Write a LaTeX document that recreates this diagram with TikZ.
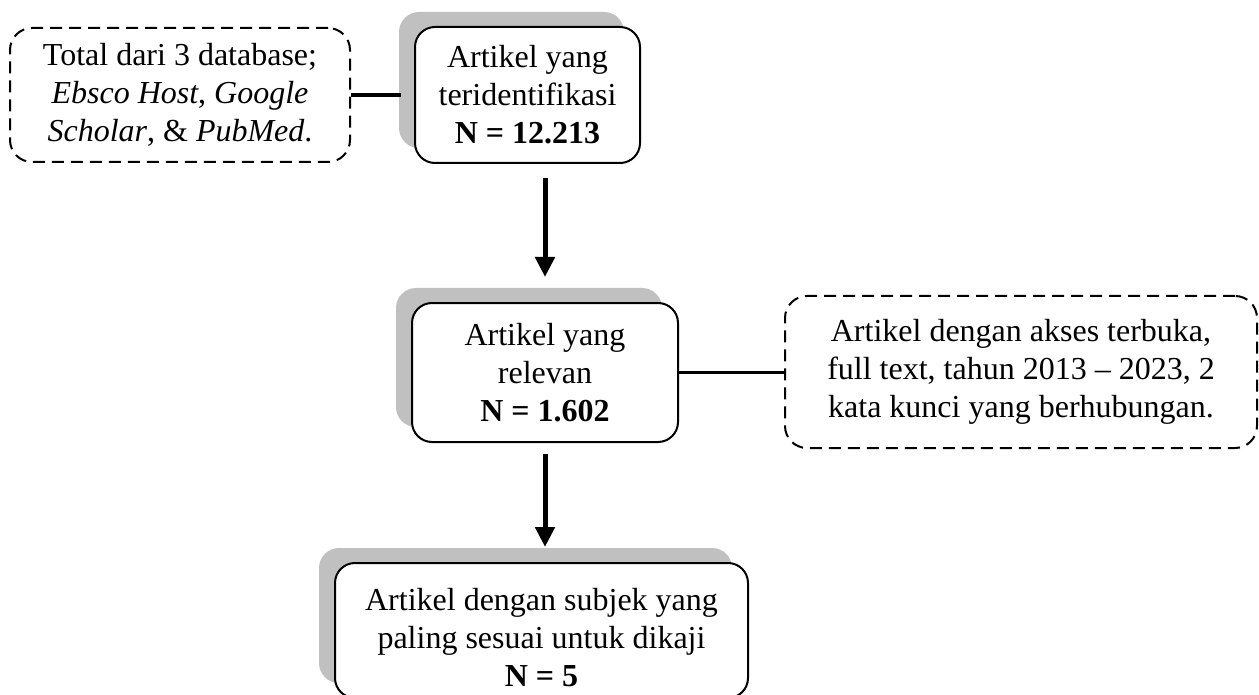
\documentclass[tikz,border=0pt]{standalone}
\usepackage{fontspec}
\setmainfont{Liberation Serif}
\usetikzlibrary{arrows.meta,shadows}
\definecolor{shadowgray}{RGB}{192,192,192}
\tikzset{
  txt/.style={font=\fontsize{32}{38}\selectfont, align=center},
  stepbox/.style={txt, draw=black, line width=2pt, fill=white, rounded corners=20pt,
    inner sep=0pt, general shadow={fill=shadowgray, shadow xshift=-16pt, shadow yshift=15pt}},
  notebox/.style={txt, draw=black, line width=2pt, dash pattern=on 12pt off 7pt,
    rounded corners=22pt, inner sep=0pt},
  flowarrow/.style={line width=5pt, -{Triangle[width=19pt,length=20pt]}},
  link/.style={line width=3.5pt}
}
\begin{document}
\begin{tikzpicture}[x=1pt,y=-1pt]
\useasboundingbox (0,0) rectangle (1259,695);
% boxes
\node[notebox, minimum width=340pt, minimum height=134pt] (src) at (180,95)
  {Total dari 3 database;\\ \textit{Ebsco Host}, \textit{Google}\\ \textit{Scholar}, \& \textit{PubMed}.};
\node[stepbox, minimum width=225pt, minimum height=136pt] (b1) at (527.5,95)
  {Artikel yang\\ teridentifikasi\\ \textbf{N = 12.213}};
\node[stepbox, minimum width=266pt, minimum height=139pt] (b2) at (545,372.5)
  {Artikel yang\\ relevan\\ \textbf{N = 1.602}};
\node[notebox, minimum width=472pt, minimum height=152pt] (crit) at (1021,372)
  {Artikel dengan akses terbuka,\\ full text, tahun 2013 -- 2023, 2\\ kata kunci yang berhubungan.};
\node[stepbox, minimum width=413pt, minimum height=135pt] (b3) at (541.5,630.5) {};
\node[txt, inner sep=0pt] (b3t) at (541.5,638)
  {Artikel dengan subjek yang\\ paling sesuai untuk dikaji\\ \textbf{N = 5}};
% connectors
\draw[link, line width=4pt, shorten >=13pt] (src.east) -- (b1.west |- src.east);
\draw[link] (b2.east) -- (crit.west |- b2.east);
\draw[flowarrow, shorten <=14pt, shorten >=25pt] (b2.north |- b1.south) -- (b2.north);
\draw[flowarrow, shorten <=11pt, shorten >=15pt] (b2.south) -- (b2.south |- b3.north);
\end{tikzpicture}
\end{document}
